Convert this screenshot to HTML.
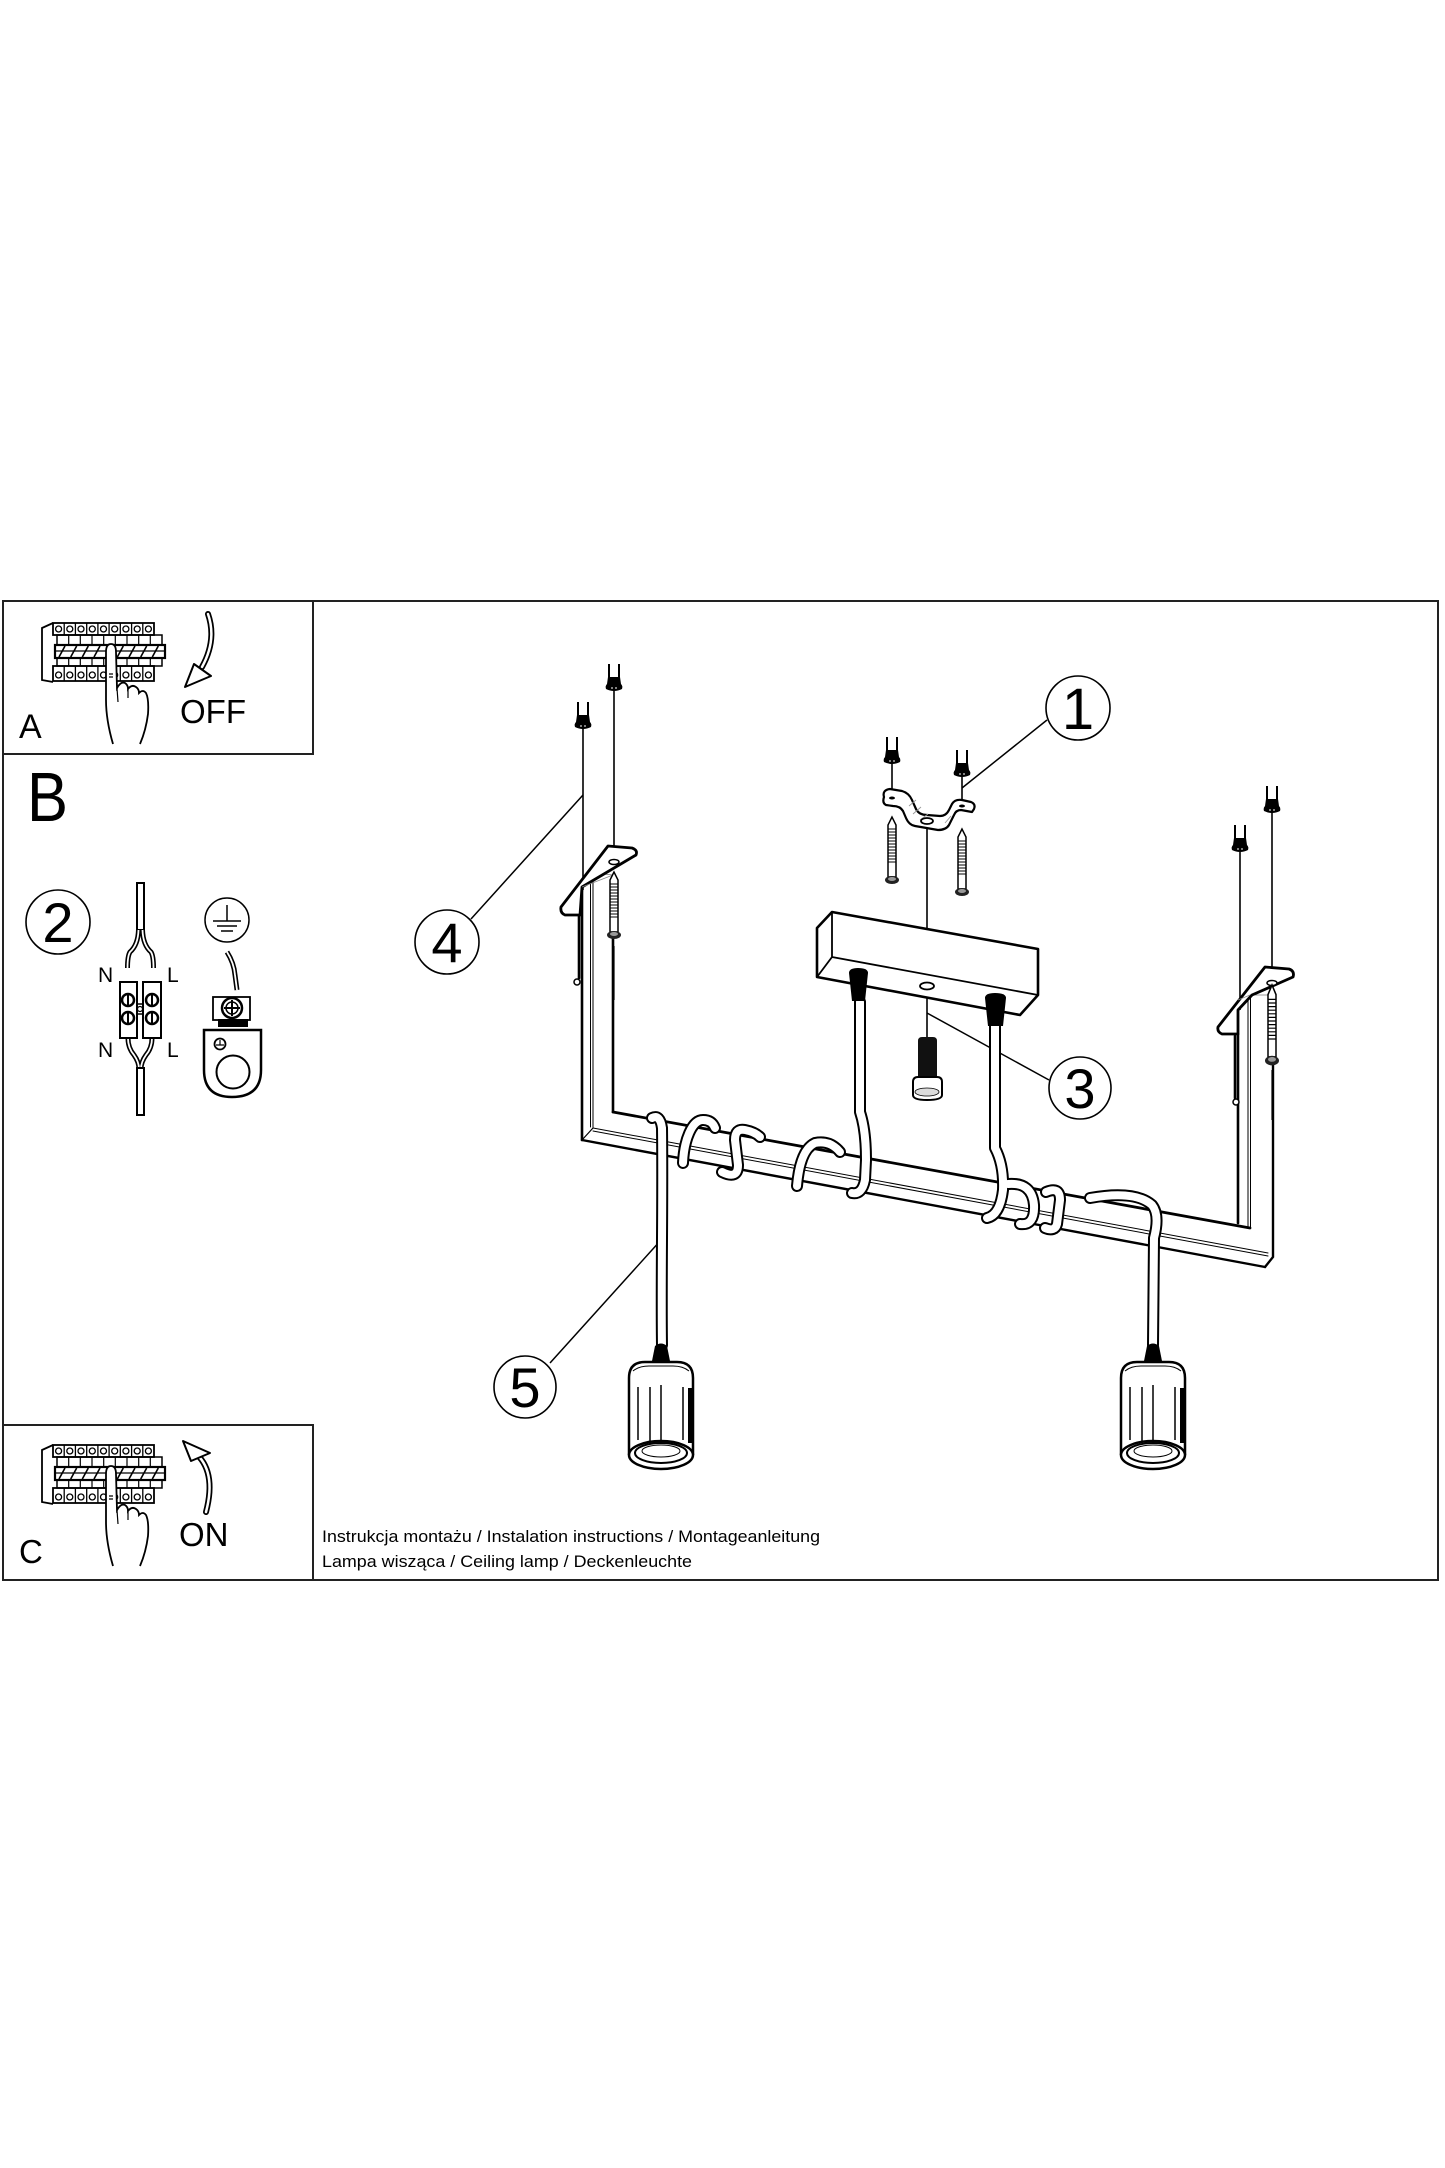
<!DOCTYPE html>
<html><head><meta charset="utf-8"><style>
html,body{margin:0;padding:0;background:#fff;}
svg{display:block;}
text{font-family:"Liberation Sans",Arial,sans-serif;fill:#000;}
</style></head><body>
<svg width="1445" height="2168" viewBox="0 0 1445 2168" xmlns="http://www.w3.org/2000/svg">
<rect width="1445" height="2168" fill="#fff"/>
<defs>
  <g id="anc">
    <path d="M-5,0 L-5,15 M5,0 L5,15" stroke="#000" stroke-width="2" fill="none"/>
    <path d="M-6,13 L6,13 L7,20 Q9,22 8,25 Q0,29 -8,25 Q-9,22 -7,20 Z" fill="#000"/>
    <path d="M-3,24 L-1,24 M1,24 L3,24" stroke="#fff" stroke-width="1"/>
  </g>
  <g id="scr">
    <path d="M0,0 L-4,8 L-4,60 L4,60 L4,8 Z" fill="#fff" stroke="#000" stroke-width="1.5"/>
    <path d="M-4,12 L4,12 M-4,15 L4,15 M-4,18 L4,18 M-4,21 L4,21 M-4,24 L4,24 M-4,27 L4,27 M-4,30 L4,30 M-4,33 L4,33 M-4,36 L4,36 M-4,39 L4,39 M-4,42 L4,42 M-4,45 L4,45" stroke="#000" stroke-width="1"/>
    <ellipse cx="0" cy="63" rx="7" ry="4" fill="#222"/>
    <ellipse cx="0" cy="62" rx="4" ry="2" fill="#999"/>
  </g>
  <g id="lamp">
    <path d="M-32,112 L-32,35 Q-32,19 -16,19 L16,19 Q32,19 32,35 L32,112" fill="#fff" stroke="#000" stroke-width="2.5"/>
    <path d="M-28,28 Q-22,23 -12,23 L12,23 Q22,23 28,28" fill="none" stroke="#000" stroke-width="1"/>
    <path d="M-23,44 L-23,97 M-11,44 L-11,98 M0,42 L0,97 M22,44 L22,97" stroke="#000" stroke-width="1.5"/>
    <rect x="27" y="45" width="4" height="55" fill="#000"/>
    <ellipse cx="0" cy="112" rx="32" ry="14" fill="#fff" stroke="#000" stroke-width="2.5"/>
    <ellipse cx="0" cy="110" rx="26" ry="10" fill="#fff" stroke="#000" stroke-width="2"/>
    <ellipse cx="0" cy="108" rx="19" ry="6" fill="none" stroke="#000" stroke-width="1"/>
    <path d="M-9,18 L-6,3 Q0,-2 6,3 L9,18 Z" fill="#000"/>
  </g>
  <g id="brk" stroke="#000" fill="none">
    <path d="M53,623 L42,628 L42,680 L53,682" stroke-width="1.8"/>
    <rect x="53" y="623" width="101" height="12" stroke-width="1.8" fill="#fff"/>
    <path d="M64.2,623V635 M75.4,623V635 M86.7,623V635 M97.9,623V635 M109.1,623V635 M120.3,623V635 M131.6,623V635 M142.8,623V635" stroke-width="1.3"/>
    <g stroke-width="1.3">
      <circle cx="58.6" cy="629" r="3"/><circle cx="69.8" cy="629" r="3"/><circle cx="81" cy="629" r="3"/><circle cx="92.3" cy="629" r="3"/><circle cx="103.5" cy="629" r="3"/><circle cx="114.7" cy="629" r="3"/><circle cx="125.9" cy="629" r="3"/><circle cx="137.2" cy="629" r="3"/><circle cx="148.4" cy="629" r="3"/>
    </g>
    <rect x="57" y="635" width="105" height="10" stroke-width="1.5"/>
    <path d="M68.7,635V645 M80.3,635V645 M92,635V645 M103.7,635V645 M115.3,635V645 M127,635V645 M138.7,635V645 M150.3,635V645" stroke-width="1.2"/>
    <rect x="55" y="645" width="110" height="13" stroke-width="2.2"/>
    <path d="M59,657 L65,646 M70.7,657 L76.7,646 M82.3,657 L88.3,646 M94,657 L100,646 M105.7,657 L111.7,646 M117.3,657 L123.3,646 M129,657 L135,646 M140.7,657 L146.7,646 M152.3,657 L158.3,646" stroke-width="1.6"/>
    <path d="M55,651 L165,651" stroke-width="1.2"/>
    <rect x="57" y="658" width="105" height="8" stroke-width="1.5"/>
    <path d="M68.7,658V666 M80.3,658V666 M92,658V666 M103.7,658V666 M115.3,658V666 M127,658V666 M138.7,658V666 M150.3,658V666" stroke-width="1.2"/>
    <rect x="53" y="666" width="101" height="15" stroke-width="1.8"/>
    <path d="M64.2,666V681 M75.4,666V681 M86.7,666V681 M97.9,666V681 M109.1,666V681 M120.3,666V681 M131.6,666V681 M142.8,666V681" stroke-width="1.3"/>
    <g stroke-width="1.3">
      <circle cx="58.6" cy="675" r="3"/><circle cx="69.8" cy="675" r="3"/><circle cx="81" cy="675" r="3"/><circle cx="92.3" cy="675" r="3"/><circle cx="103.5" cy="675" r="3"/><circle cx="114.7" cy="675" r="3"/><circle cx="125.9" cy="675" r="3"/><circle cx="137.2" cy="675" r="3"/><circle cx="148.4" cy="675" r="3"/>
    </g>
    <path d="M106,652 Q106,644 111,644 Q116,644 116,652 L117,688 Q121,681 125,683 Q128,685 128,689 Q132,684 136,687 Q139,689 139,693 Q143,689 146,693 Q149,699 148,714 Q146,730 140,744 L113,744 Q106,720 106,700 Z" fill="#fff" stroke="none"/>
    <path d="M113,744 Q106,720 106,700 L106,652 Q106,644 111,644 Q116,644 116,652 L117,688 Q121,681 125,683 Q128,685 128,689 Q132,684 136,687 Q139,689 139,693 Q143,689 146,693 Q149,699 148,714 Q146,730 140,744" stroke-width="1.8"/>
    <path d="M117,688 L118,702 M128,689 L128,698 M109,674 L113,674 M109,677 L113,677" stroke-width="1.2"/>
  </g>
</defs>

<!-- outer frame and panels -->
<rect x="3" y="601" width="1435" height="979" fill="none" stroke="#222" stroke-width="2"/>
<path d="M313,601 L313,754 L3,754 M3,1425 L313,1425 L313,1580" fill="none" stroke="#222" stroke-width="2"/>

<!-- Panel A -->
<use href="#brk"/>
<path d="M208,614 Q217,640 202,667" fill="none" stroke="#000" stroke-width="6" stroke-linecap="round"/>
<path d="M208,614 Q217,640 202,667" fill="none" stroke="#fff" stroke-width="2.5" stroke-linecap="round"/>
<polygon points="185,687 194,664 211,676" fill="#fff" stroke="#000" stroke-width="2" stroke-linejoin="round"/>
<text x="180" y="723" font-size="33">OFF</text>
<text x="19" y="738" font-size="34">A</text>

<!-- Panel B -->
<text x="27" y="821" font-size="70" textLength="41" lengthAdjust="spacingAndGlyphs">B</text>
<circle cx="58" cy="922" r="32" fill="none" stroke="#000" stroke-width="1.6"/>
<text x="58" y="942" font-size="56" text-anchor="middle">2</text>

<rect x="137" y="883" width="7" height="47" fill="#fff" stroke="#000" stroke-width="2"/>
<g fill="none" stroke-linecap="butt">
  <path d="M138.5,930 Q138,945 130,952 Q127.5,956 127.5,968 M142.5,930 Q143,945 151,952 Q153.5,956 153.5,968" stroke="#000" stroke-width="5"/>
  <path d="M138.5,930 Q138,945 130,952 Q127.5,956 127.5,968 M142.5,930 Q143,945 151,952 Q153.5,956 153.5,968" stroke="#fff" stroke-width="1.8"/>
  <path d="M128,1038 Q128,1048 134,1055 Q139,1062 139,1069 M152,1038 Q152,1048 146,1055 Q141,1062 141,1069" stroke="#000" stroke-width="5"/>
  <path d="M128,1038 Q128,1048 134,1055 Q139,1062 139,1069 M152,1038 Q152,1048 146,1055 Q141,1062 141,1069" stroke="#fff" stroke-width="1.8"/>
</g>
<rect x="137" y="1068" width="7" height="47" fill="#fff" stroke="#000" stroke-width="2"/>
<text x="98" y="982" font-size="21">N</text>
<text x="167" y="982" font-size="21">L</text>
<text x="98" y="1057" font-size="21">N</text>
<text x="167" y="1057" font-size="21">L</text>
<rect x="120" y="982" width="17" height="56" fill="#fff" stroke="#000" stroke-width="2"/>
<rect x="143" y="982" width="18" height="56" fill="#fff" stroke="#000" stroke-width="2"/>
<path d="M137,1004 L143,1004 M137,1014 L143,1014" stroke="#000" stroke-width="1.5"/>
<circle cx="140" cy="1009" r="2.5" fill="#fff" stroke="#000" stroke-width="1.2"/>
<g fill="#fff" stroke="#000" stroke-width="2.5">
  <circle cx="128" cy="1000" r="6"/><circle cx="128" cy="1018" r="6"/>
  <circle cx="152" cy="1000" r="6"/><circle cx="152" cy="1018" r="6"/>
</g>
<path d="M128,995 V1005 M128,1013 V1023 M152,995 V1005 M152,1013 V1023" stroke="#000" stroke-width="2"/>

<circle cx="227" cy="920" r="22" fill="none" stroke="#000" stroke-width="1.5"/>
<path d="M227,905 L227,921 M213,921 L241,921 M217,926 L237,926 M221,931 L233,931" stroke="#000" stroke-width="1.5"/>
<path d="M227,952 Q234,963 235,975 L237,990" fill="none" stroke="#000" stroke-width="5"/>
<path d="M227,952 Q234,963 235,975 L237,990" fill="none" stroke="#fff" stroke-width="1.8"/>
<rect x="213" y="997" width="37" height="23" fill="#fff" stroke="#000" stroke-width="1.8"/>
<circle cx="232" cy="1008" r="10" fill="#fff" stroke="#000" stroke-width="2.5"/>
<circle cx="232" cy="1008" r="6" fill="none" stroke="#000" stroke-width="1.5"/>
<path d="M224,1008 L240,1008 M232,1000 L232,1016" stroke="#000" stroke-width="2"/>
<rect x="218" y="1019" width="30" height="8" fill="#000"/>
<path d="M204,1030 L261,1030 L261,1070 Q261,1097 232,1097 Q204,1097 204,1070 Z" fill="#fff" stroke="#000" stroke-width="2.5"/>
<circle cx="233" cy="1072" r="16.5" fill="#fff" stroke="#000" stroke-width="2"/>
<circle cx="220" cy="1044" r="5.5" fill="#fff" stroke="#000" stroke-width="1.8"/>
<path d="M220,1040 L220,1045 M216,1045 L224,1045" stroke="#000" stroke-width="1.2"/>

<!-- Panel C -->
<use href="#brk" transform="translate(0,822)"/>
<path d="M206,1512 Q217,1470 194,1452" fill="none" stroke="#000" stroke-width="6" stroke-linecap="round"/>
<path d="M206,1512 Q217,1470 194,1452" fill="none" stroke="#fff" stroke-width="2.5" stroke-linecap="round"/>
<polygon points="183,1441 210,1453 191,1461" fill="#fff" stroke="#000" stroke-width="2" stroke-linejoin="round"/>
<text x="179" y="1546" font-size="33">ON</text>
<text x="19" y="1563" font-size="33">C</text>

<!-- footer text -->
<text x="322" y="1542" font-size="16.5" textLength="498" lengthAdjust="spacingAndGlyphs">Instrukcja montażu / Instalation instructions / Montageanleitung</text>
<text x="322" y="1567" font-size="16.5" textLength="370" lengthAdjust="spacingAndGlyphs">Lampa wisząca / Ceiling lamp / Deckenleuchte</text>

<!-- ===== main drawing ===== -->
<g stroke="#000" stroke-width="1.6" fill="none">
  <path d="M583,728 L583,890"/>
  <path d="M614,690 L614,848"/>
  <path d="M892,762 L892,792"/>
  <path d="M962,775 L962,800"/>
  <path d="M1240,852 L1240,1010"/>
  <path d="M1272,812 L1272,968"/>
  <path d="M927,820 L927,929"/>
  <path d="M927,988 L927,1038"/>
</g>
<use href="#anc" x="583" y="702"/>
<use href="#anc" x="614" y="664"/>
<use href="#anc" x="892" y="737"/>
<use href="#anc" x="962" y="750"/>
<use href="#anc" x="1240" y="825"/>
<use href="#anc" x="1272" y="786"/>

<!-- U frame -->
<g stroke="#000" fill="none" stroke-linecap="round">
  <path d="M582,887 L582,1140" stroke-width="2.6"/>
  <path d="M590.5,874 L590.5,1127 M593,874 L593,1128" stroke-width="1"/>
  <path d="M613,876 L613,1112" stroke-width="2.6"/>
  <path d="M593,873 L613,875" stroke-width="0.8" stroke="#777"/>
  <path d="M582,1140 L593,1128" stroke-width="1.2"/>
  <path d="M613,1112 L1250,1228" stroke-width="2.8"/>
  <path d="M593,1128 L1268,1253 M593,1131 L1268,1256" stroke-width="1"/>
  <path d="M582,1140 L1265,1267" stroke-width="2.4"/>
  <path d="M1238,1034 L1238,1223" stroke-width="2.6"/>
  <path d="M1248,995 L1248,1228 M1250.5,995 L1250.5,1228" stroke-width="1"/>
  <path d="M1273,990 L1273,1257 L1265,1267" stroke-width="2.4"/>
  <path d="M1250,995 L1273,995" stroke-width="0.8" stroke="#777"/>
  <path d="M579,915 L579,978" stroke-width="2.6"/>
  <path d="M1235,1036 L1235,1098" stroke-width="2.6"/>
</g>
<circle cx="577" cy="982" r="3" fill="#fff" stroke="#000" stroke-width="1.5"/>
<circle cx="1236" cy="1102" r="3" fill="#fff" stroke="#000" stroke-width="1.5"/>

<!-- frame mounting plates -->
<path d="M608,846 L632,848 Q638,850 636,855 L582,887 L580,915 L565,915 Q560,913 561,907 Z" fill="#fff" stroke="#000" stroke-width="2.8" stroke-linejoin="round"/>
<path d="M1265,967 L1289,969 Q1295,971 1293,977 L1252,995 L1238,1010 L1238,1034 L1222,1034 Q1217,1032 1218,1027 Z" fill="#fff" stroke="#000" stroke-width="2.8" stroke-linejoin="round"/>
<path d="M582,887 L613,875 M1250,995 L1238,1000" stroke="#888" stroke-width="0.8"/>
<ellipse cx="614" cy="862" rx="5" ry="2.5" fill="#fff" stroke="#000" stroke-width="1.5"/>
<ellipse cx="1272" cy="983" rx="5" ry="2.5" fill="#fff" stroke="#000" stroke-width="1.5"/>
<use href="#scr" x="614" y="872"/>
<use href="#scr" transform="translate(1272,985) scale(1,1.2)"/>
<path d="M614,946 L614,1000 M1272,1070 L1272,1120" stroke="#000" stroke-width="1.2"/>

<!-- ceiling bracket 1 -->
<path d="M884,797 Q882,790 890,789 L902,791 Q909,793 912,800 L916,809 Q919,815 927,815 L940,816 Q946,816 949,810 L952,804 Q955,799 962,800 L971,802 Q976,804 974,809 L972,812 L961,810 Q956,810 954,815 L949,825 Q946,830 938,830 L915,826 Q909,825 906,818 L903,811 Q900,806 893,806 L886,805 Q882,803 884,797 Z" fill="#fff" stroke="#000" stroke-width="2.2" stroke-linejoin="round"/>
<path d="M909,806 L916,800 M913,814 L921,807 M920,820 L928,814 M945,823 L951,816" stroke="#999" stroke-width="0.9"/>
<ellipse cx="927" cy="821" rx="6" ry="3" fill="#fff" stroke="#000" stroke-width="1.8"/>
<ellipse cx="892" cy="798" rx="3" ry="1.5" fill="#000"/>
<ellipse cx="962" cy="806" rx="3" ry="1.5" fill="#000"/>
<use href="#scr" x="892" y="817"/>
<use href="#scr" x="962" y="829"/>

<!-- canopy -->
<path d="M817,928 L832,912 L1038,949 L1038,995 L1020,1015 L817,977 Z" fill="#fff" stroke="#000" stroke-width="2.6" stroke-linejoin="round"/>
<path d="M832,912 L832,957 L1038,995 M832,957 L817,977" fill="none" stroke="#000" stroke-width="1.8"/>
<ellipse cx="927" cy="986" rx="7" ry="3.5" fill="#fff" stroke="#000" stroke-width="1.8"/>

<!-- cap screw -->
<path d="M918,1041 Q918,1037 922,1037 L933,1037 Q937,1037 937,1041 L937,1078 L918,1078 Z" fill="#111"/>
<path d="M913,1082 Q913,1077 918,1077 L937,1077 Q942,1077 942,1082 L942,1095 Q942,1100 927,1100 Q913,1100 913,1095 Z" fill="#fff" stroke="#000" stroke-width="2"/>
<ellipse cx="927" cy="1092" rx="12" ry="4" fill="#ddd" stroke="#000" stroke-width="0.8"/>

<!-- leaders -->
<g stroke="#000" stroke-width="1.5" fill="none">
  <path d="M1047,720 L962,788"/>
  <path d="M1049,1080 L927,1013"/>
  <path d="M471,919 L583,795"/>
  <path d="M550,1363 L661,1240"/>
</g>

<!-- cables (tubes) -->
<g fill="none" stroke-linecap="round" stroke-linejoin="round">
  <g stroke="#000" stroke-width="12">
    <path d="M662,1345 C661,1280 663,1200 662,1128 Q660,1114 652,1118"/>
    <path d="M683,1163 C684,1140 692,1120 703,1120 Q712,1120 715,1128"/>
    <path d="M722,1172 Q738,1180 738,1165 L735,1140 Q735,1128 745,1130 Q755,1132 760,1137"/>
    <path d="M797,1186 Q800,1150 815,1143 Q830,1140 840,1152"/>
    <path d="M860,1002 L860,1112 Q866,1130 866,1160 L865,1180 Q862,1195 852,1193"/>
    <path d="M995,1025 L995,1148 Q1004,1165 1003,1190 Q1000,1215 987,1218"/>
    <path d="M1008,1184 Q1032,1182 1034,1205 Q1035,1226 1020,1224"/>
    <path d="M1046,1192 Q1060,1186 1060,1200 L1057,1224 Q1055,1232 1045,1228"/>
    <path d="M1090,1198 Q1135,1190 1152,1205 Q1160,1215 1154,1238 L1153,1345"/>
  </g>
  <g stroke="#fff" stroke-width="8">
    <path d="M662,1345 C661,1280 663,1200 662,1128 Q660,1114 652,1118"/>
    <path d="M683,1163 C684,1140 692,1120 703,1120 Q712,1120 715,1128"/>
    <path d="M722,1172 Q738,1180 738,1165 L735,1140 Q735,1128 745,1130 Q755,1132 760,1137"/>
    <path d="M797,1186 Q800,1150 815,1143 Q830,1140 840,1152"/>
    <path d="M860,1002 L860,1112 Q866,1130 866,1160 L865,1180 Q862,1195 852,1193"/>
    <path d="M995,1025 L995,1148 Q1004,1165 1003,1190 Q1000,1215 987,1218"/>
    <path d="M1008,1184 Q1032,1182 1034,1205 Q1035,1226 1020,1224"/>
    <path d="M1046,1192 Q1060,1186 1060,1200 L1057,1224 Q1055,1232 1045,1228"/>
    <path d="M1090,1198 Q1135,1190 1152,1205 Q1160,1215 1154,1238 L1153,1345"/>
  </g>
</g>

<!-- cable grips -->
<path d="M849,973 Q849,968 858,968 Q868,968 868,973 L865,1001 L852,1001 Z" fill="#000"/>
<path d="M985,998 Q985,993 995,993 Q1006,993 1006,998 L1003,1026 L988,1026 Z" fill="#000"/>

<!-- lamps -->
<use href="#lamp" x="661" y="1343"/>
<use href="#lamp" x="1153" y="1343"/>

<!-- number circles -->
<g fill="#fff" stroke="#000" stroke-width="1.6">
  <circle cx="1078" cy="708" r="32"/>
  <circle cx="1080" cy="1088" r="31"/>
  <circle cx="447" cy="942" r="32"/>
  <circle cx="525" cy="1387" r="31"/>
</g>
<text x="1078" y="729" font-size="58" text-anchor="middle">1</text>
<text x="1080" y="1108" font-size="56" text-anchor="middle">3</text>
<text x="447" y="962" font-size="56" text-anchor="middle">4</text>
<text x="525" y="1407" font-size="56" text-anchor="middle">5</text>
</svg>
</body></html>
